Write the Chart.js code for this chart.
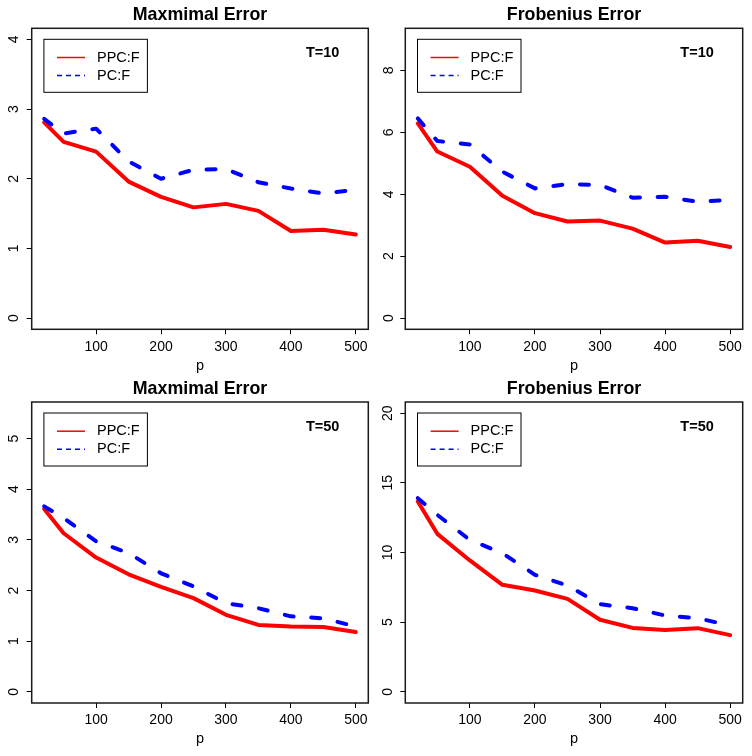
<!DOCTYPE html>
<html><head><meta charset="utf-8">
<script src="https://cdn.jsdelivr.net/npm/chart.js@4.4.0/dist/chart.umd.min.js"></script>
<style>
html,body{margin:0;padding:0;background:#fff;}
#wrap{position:relative;width:752px;height:756px;background:#fff;}
canvas{position:absolute;}
</style></head><body>
<div id="wrap">
<canvas id="c1" width="376" height="378" style="left:0px;top:0px"></canvas>
<canvas id="c2" width="376" height="378" style="left:376px;top:0px"></canvas>
<canvas id="c3" width="376" height="378" style="left:0px;top:378px"></canvas>
<canvas id="c4" width="376" height="378" style="left:376px;top:378px"></canvas>
</div>
<script>
// ---------- data ----------
const p = [20, 50, 100, 150, 200, 250, 300, 350, 400, 450, 500];
const xTicks = [100, 200, 300, 400, 500];
const seriesLabels = ['PPC:F', 'PC:F'];
const titles = ['Maxmimal Error', 'Frobenius Error', 'Maxmimal Error', 'Frobenius Error'];
const tLabels = ['T=10', 'T=10', 'T=50', 'T=50'];
const xLabel = 'p';

const maxErrT10_PPC  = [2.81, 2.53, 2.39, 1.96, 1.74, 1.59, 1.64, 1.54, 1.25, 1.27, 1.20];
const maxErrT10_PC   = [2.86, 2.65, 2.72, 2.25, 2.00, 2.13, 2.14, 1.95, 1.86, 1.79, 1.84];
const frobErrT10_PPC = [6.29, 5.38, 4.89, 3.95, 3.39, 3.12, 3.15, 2.89, 2.44, 2.50, 2.30];
const frobErrT10_PC  = [6.45, 5.72, 5.61, 4.73, 4.19, 4.33, 4.30, 3.89, 3.92, 3.76, 3.82];
const maxErrT50_PPC  = [3.61, 3.13, 2.65, 2.32, 2.07, 1.85, 1.52, 1.32, 1.29, 1.28, 1.18];
const maxErrT50_PC   = [3.66, 3.43, 2.97, 2.74, 2.34, 2.08, 1.75, 1.65, 1.49, 1.45, 1.29];
const frobErrT50_PPC = [13.66, 11.34, 9.43, 7.68, 7.27, 6.67, 5.17, 4.59, 4.43, 4.57, 4.07];
const frobErrT50_PC  = [13.90, 12.70, 10.90, 9.95, 8.40, 7.63, 6.29, 6.00, 5.48, 5.29, 4.76];

const yTicksMaxT10  = [0, 1, 2, 3, 4];
const yTicksFrobT10 = [0, 2, 4, 6, 8];
const yTicksMaxT50  = [0, 1, 2, 3, 4, 5];
const yTicksFrobT50 = [0, 5, 10, 15, 20];
const yLimMaxT10  = [0, 4];
const yLimFrobT10 = [0, 9];
const yLimMaxT50  = [0, 5.5];
const yLimFrobT50 = [0, 20];

// ---------- rendering ----------
const FONT = '"Liberation Sans", Arial, Helvetica, sans-serif';
Chart.defaults.font.family = FONT;
Chart.defaults.color = '#000';

const decor = {
  id: 'decor',
  afterDraw(chart, args, o) {
    const ctx = chart.ctx, a = chart.chartArea;
    ctx.save();
    ctx.strokeStyle = '#1a1a1a'; ctx.lineWidth = 1.5;
    ctx.strokeRect(a.left, a.top, a.right - a.left, a.bottom - a.top);
    ctx.fillStyle = '#000'; ctx.textAlign = 'center'; ctx.textBaseline = 'middle';
    ctx.font = 'bold 17.8px ' + FONT;
    ctx.fillText(o.title, (a.left + a.right) / 2, a.top - 13.2);
    ctx.font = 'bold 14.5px ' + FONT;
    ctx.fillText(o.tLabel, a.right - 45.6, a.top + 25);
    // legend
    const lx = a.left + 12.2, ly = a.top + 11, lw = 103.5, lh = 53;
    ctx.fillStyle = '#fff';
    ctx.fillRect(lx, ly, lw, lh);
    ctx.strokeStyle = '#000'; ctx.lineWidth = 1;
    ctx.strokeRect(lx, ly, lw, lh);
    const rows = [a.top + 29.2, a.top + 47.2];
    chart.data.datasets.forEach((ds, i) => {
      const y = rows[i];
      ctx.beginPath();
      ctx.strokeStyle = ds.borderColor; ctx.lineWidth = 1.5;
      ctx.setLineDash(ds.borderDash && ds.borderDash.length ? [5, 4] : []);
      ctx.moveTo(a.left + 25.3, y); ctx.lineTo(a.left + 53.3, y);
      ctx.stroke();
      ctx.setLineDash([]);
      ctx.fillStyle = '#000'; ctx.textAlign = 'left'; ctx.textBaseline = 'middle';
      ctx.font = '14.5px ' + FONT;
      ctx.fillText(ds.label, a.left + 65.3, y);
    });
    ctx.restore();
  }
};

function makePanel(id, idx, ppc, pc, yTicks, yLim, geo) {
  const xr = Math.max(...p) - Math.min(...p);
  const xmin = Math.min(...p) - 0.04 * xr, xmax = Math.max(...p) + 0.04 * xr;
  const yr = yLim[1] - yLim[0];
  const ymin = yLim[0] - 0.04 * yr, ymax = yLim[1] + 0.04 * yr;
  const H = geo.H;
  new Chart(document.getElementById(id), {
    type: 'line',
    data: {
      datasets: [
        { label: seriesLabels[0], data: p.map((x, i) => ({ x, y: ppc[i] })),
          borderColor: '#ff0000', borderWidth: 4, pointRadius: 0, tension: 0,
          borderJoinStyle: 'round', borderCapStyle: 'round', order: 1, borderDash: [] },
        { label: seriesLabels[1], data: p.map((x, i) => ({ x, y: pc[i] })),
          borderColor: '#0000ff', borderWidth: 4, pointRadius: 0, tension: 0,
          borderDash: [9, 17.7], borderCapStyle: 'round', borderJoinStyle: 'round', order: 0 }
      ]
    },
    options: {
      responsive: false, animation: false, devicePixelRatio: 1,
      layout: { padding: { left: 0, top: geo.T, right: 376 - geo.R, bottom: 378 - geo.B - H } },
      plugins: { legend: { display: false }, tooltip: { enabled: false }, title: { display: false },
        decor: { title: titles[idx], tLabel: tLabels[idx] } },
      scales: {
        x: { type: 'linear', min: xmin, max: xmax,
          afterBuildTicks: s => { s.ticks = xTicks.map(v => ({ value: v })); },
          afterFit: s => { s.height = H; },
          grid: { display: true, drawOnChartArea: false, drawTicks: true, tickLength: 5, color: '#000', lineWidth: 1 },
          border: { display: false },
          ticks: { font: { size: 14 }, color: '#000', padding: 4, maxRotation: 0, minRotation: 0, autoSkip: false },
          title: { display: true, text: xLabel, font: { size: 14.5 }, color: '#000', padding: 0 } },
        y: { type: 'linear', min: ymin, max: ymax,
          afterBuildTicks: s => { s.ticks = yTicks.map(v => ({ value: v })); },
          afterFit: s => { s.width = geo.L; },
          grid: { display: true, drawOnChartArea: false, drawTicks: true, tickLength: 5, color: '#000', lineWidth: 1 },
          border: { display: false },
          ticks: { font: { size: 14 }, color: '#000', padding: geo.yPad, minRotation: 90, maxRotation: 90,
            crossAlign: 'center', autoSkip: false } }
      }
    },
    plugins: [decor]
  });
}

makePanel('c1', 0, maxErrT10_PPC, maxErrT10_PC, yTicksMaxT10, yLimMaxT10,
  { L: 31.7, T: 28.3, R: 368.3, B: 329.3, H: 45.4, yPad: 8.5 });
makePanel('c2', 1, frobErrT10_PPC, frobErrT10_PC, yTicksFrobT10, yLimFrobT10,
  { L: 29.3, T: 28.3, R: 366.7, B: 329.3, H: 45.4, yPad: 7.2 });
makePanel('c3', 2, maxErrT50_PPC, maxErrT50_PC, yTicksMaxT50, yLimMaxT50,
  { L: 31.7, T: 24, R: 368.3, B: 325, H: 45.1, yPad: 8.4 });
makePanel('c4', 3, frobErrT50_PPC, frobErrT50_PC, yTicksFrobT50, yLimFrobT50,
  { L: 29.3, T: 24, R: 366.7, B: 325, H: 45.1, yPad: 4.0 });
</script>
</body></html>
